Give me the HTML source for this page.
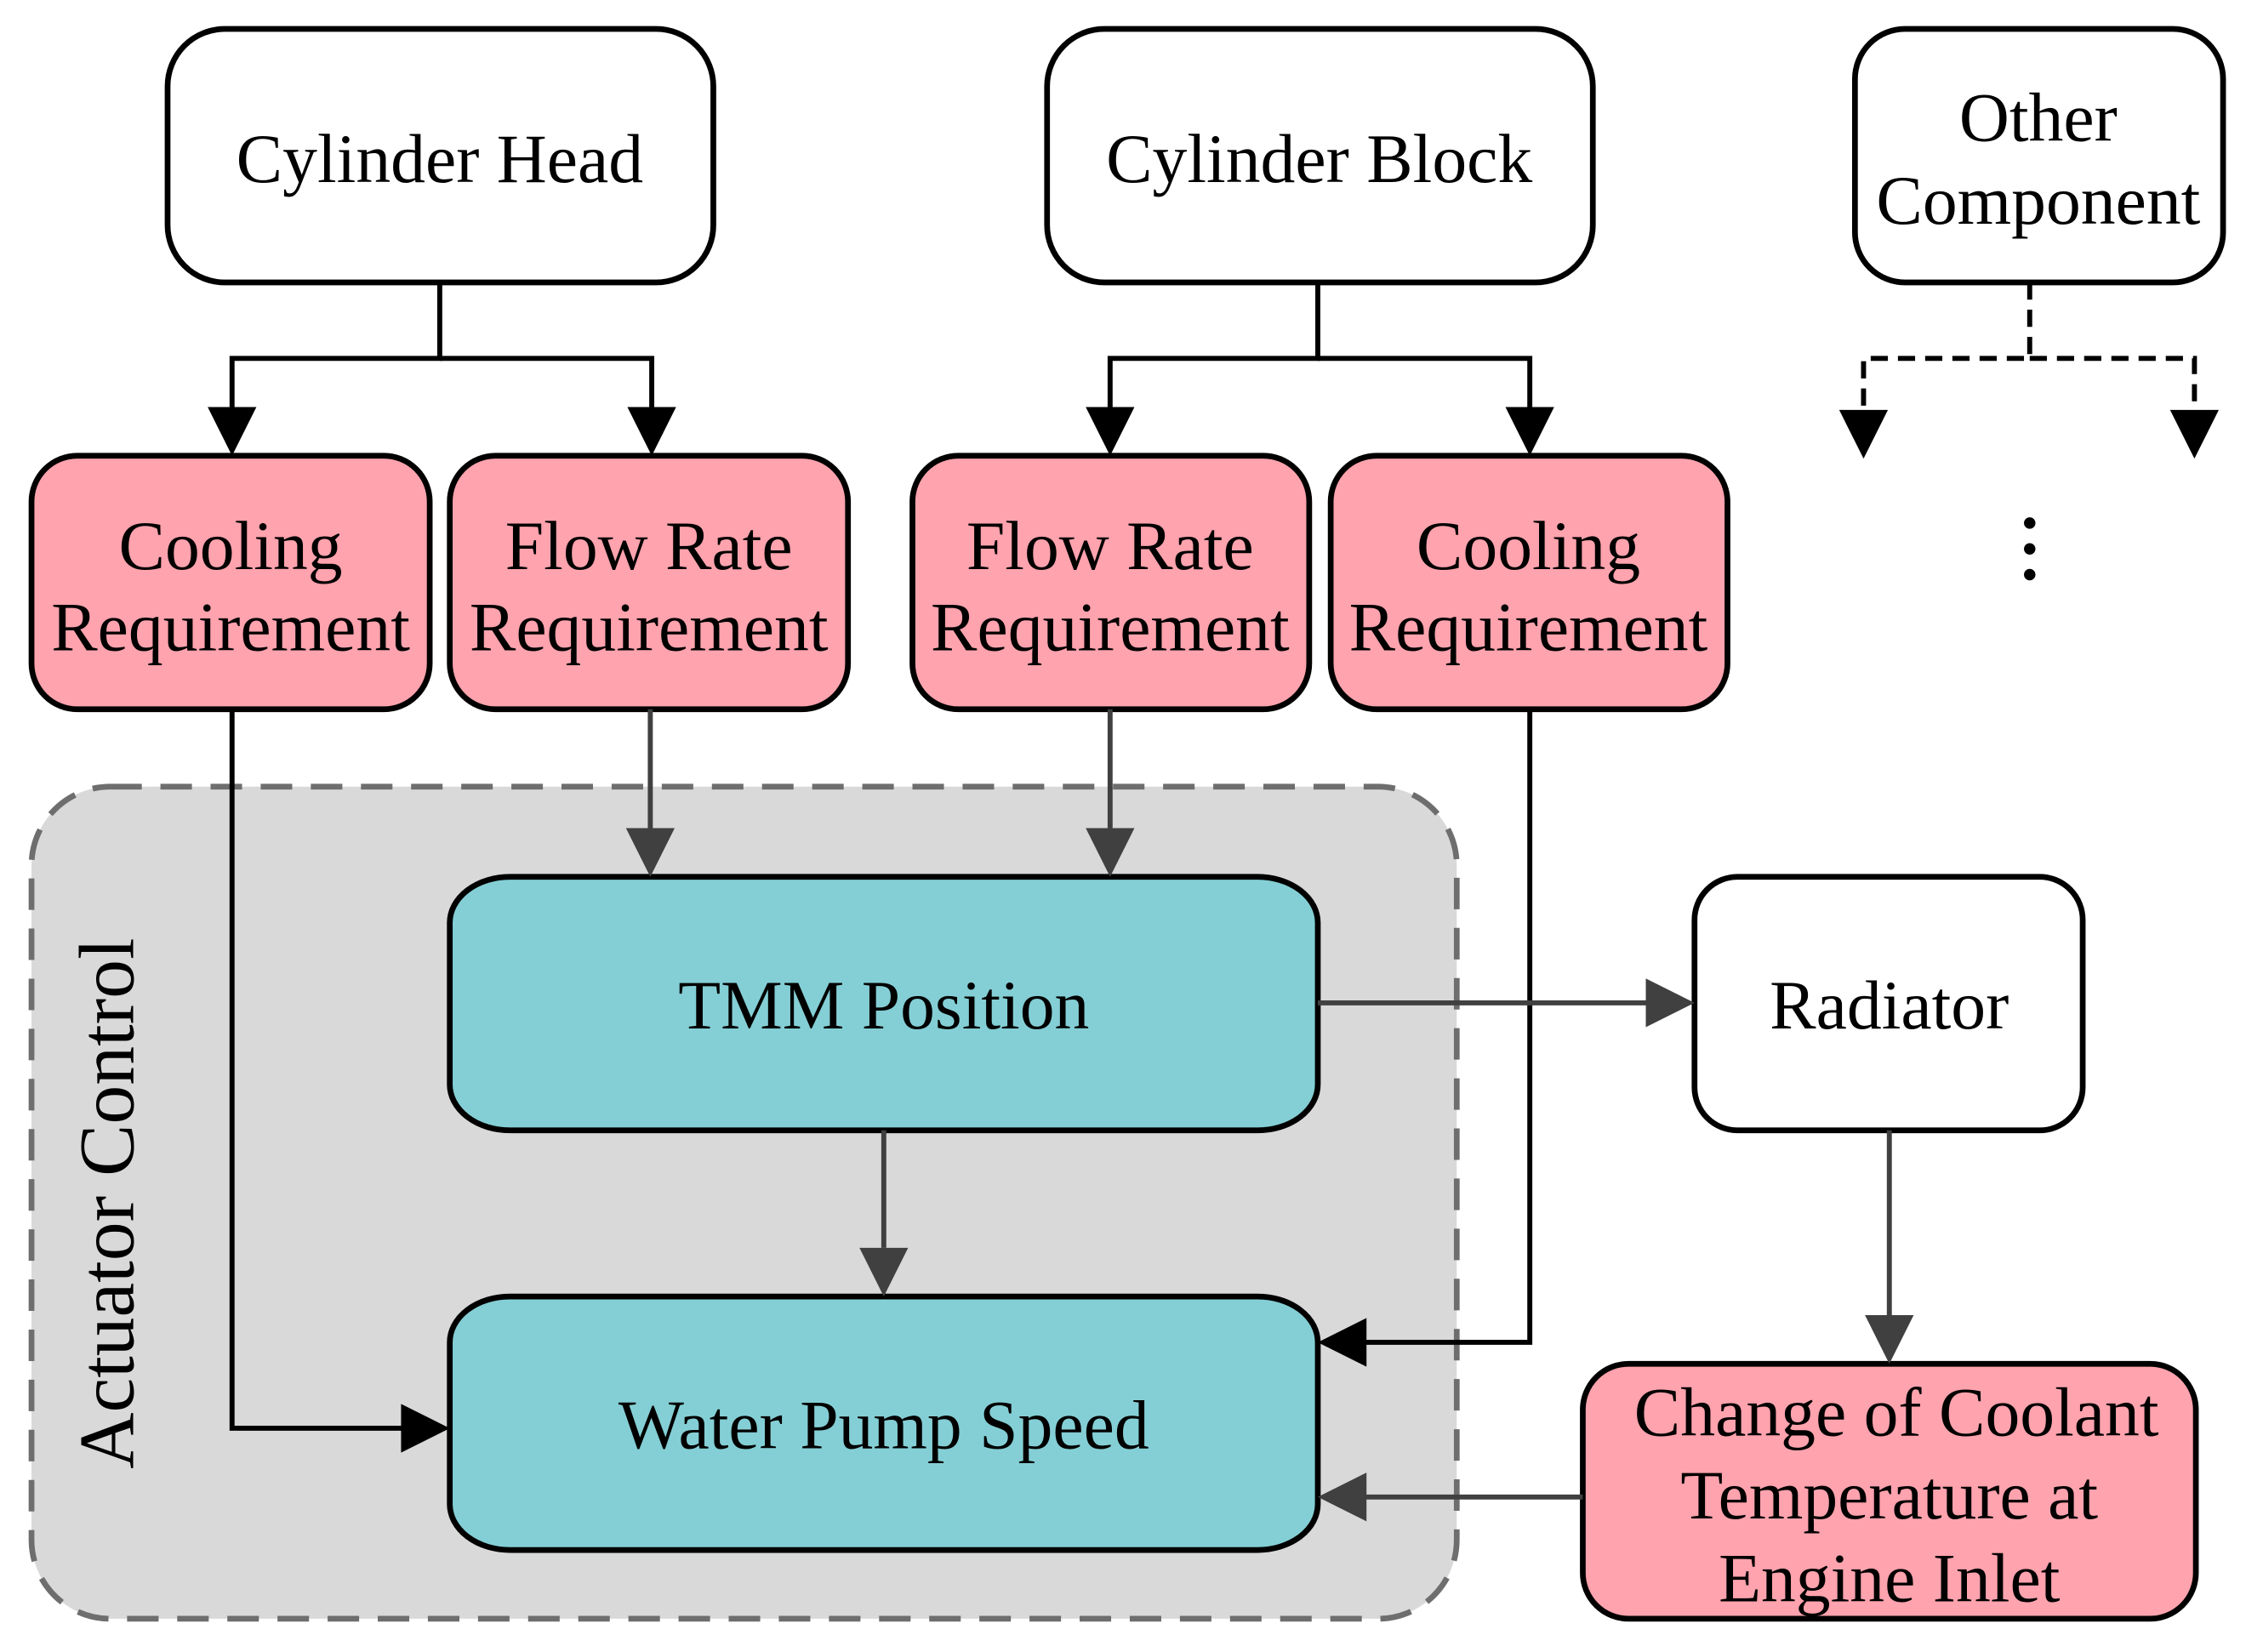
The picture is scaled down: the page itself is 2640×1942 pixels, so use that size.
<!DOCTYPE html>
<html><head><meta charset="utf-8"><style>
html,body{margin:0;padding:0;background:#fff;}
svg{display:block;}
text{font-family:"Liberation Serif",serif;font-size:48.5px;fill:#000;text-anchor:middle;}
</style></head><body>
<svg width="2640" height="1942" viewBox="0 0 1568 1153" xmlns="http://www.w3.org/2000/svg">
<rect width="1568" height="1153" fill="#fff"/>
<rect x="22" y="549" width="995" height="581" rx="55" fill="#D9D9D9" stroke="#6e6e6e" stroke-width="4" stroke-dasharray="22,13"/>
<text transform="translate(93,840) rotate(-90)" style="font-size:54.5px">Actuator Control</text>

<g stroke="#000" stroke-width="4" fill="#fff">
<rect x="117" y="20" width="381" height="177" rx="40"/>
<rect x="731" y="20" width="381" height="177" rx="40"/>
<rect x="1295" y="20" width="257" height="177" rx="35"/>
<rect x="1183" y="612" width="271" height="177" rx="30"/>
</g>
<text x="307" y="127">Cylinder Head</text>
<text x="921" y="127">Cylinder Block</text>
<text x="1423" y="98">Other</text>
<text x="1423" y="156">Component</text>
<text x="1319" y="718">Radiator</text>

<g stroke="#000" stroke-width="3.5" fill="none">
<path d="M307,197V250H162V284"/><path d="M307,250H455V284"/>
<path d="M920,197V250H775V284"/><path d="M920,250H1068V284"/>
<path d="M1417,197V250H1301V284" stroke-dasharray="12,7"/><path d="M1417,250H1532V284" stroke-dasharray="12,7"/>
</g>
<g fill="#000">
<path d="M145,284H179L162,318z"/><path d="M438,284H472L455,318z"/>
<path d="M758,284H792L775,318z"/><path d="M1051,284H1085L1068,318z"/>
<path d="M1284,286H1318L1301,320z"/><path d="M1515,286H1549L1532,320z"/>
<circle cx="1417" cy="365" r="4"/><circle cx="1417" cy="383" r="4"/><circle cx="1417" cy="401" r="4"/>
</g>

<g stroke="#000" stroke-width="4" fill="#FFA3AE">
<rect x="22" y="318" width="278" height="177" rx="32"/>
<rect x="314" y="318" width="278" height="177" rx="32"/>
<rect x="637" y="318" width="277" height="177" rx="32"/>
<rect x="929" y="318" width="277" height="177" rx="32"/>
<rect x="1105" y="952" width="428" height="178" rx="32"/>
</g>
<text x="161" y="397">Cooling</text><text x="161" y="454">Requirement</text>
<text x="453" y="397">Flow Rate</text><text x="453" y="454">Requirement</text>
<text x="775" y="397">Flow Rate</text><text x="775" y="454">Requirement</text>
<text x="1067" y="397">Cooling</text><text x="1067" y="454">Requirement</text>
<text x="1324" y="1002">Change of Coolant</text>
<text x="1319" y="1060">Temperature at</text>
<text x="1319" y="1118">Engine Inlet</text>

<g stroke="#000" stroke-width="4" fill="#84CFD5">
<rect x="314" y="612" width="606" height="177" rx="42" ry="32"/>
<rect x="314" y="905" width="606" height="177" rx="42" ry="32"/>
</g>
<text x="617" y="718">TMM Position</text>
<text x="617" y="1011">Water Pump Speed</text>

<g stroke="#000" stroke-width="3.5" fill="none">
<path d="M162,495V997H282"/>
<path d="M1068,495V937H952"/>
</g>
<g stroke="#404040" stroke-width="3.5" fill="none">
<path d="M454,495V578"/><path d="M775,495V578"/>
<path d="M617,789V871"/>
<path d="M920,700H1150"/>
<path d="M1319,789V918"/>
<path d="M1105,1045H952"/>
</g>
<g fill="#000">
<path d="M280,980V1014L314,997z"/>
<path d="M954,920V954L920,937z"/>
</g>
<g fill="#404040">
<path d="M437,578H471L454,612z"/><path d="M758,578H792L775,612z"/>
<path d="M600,871H634L617,905z"/>
<path d="M1149,683V717L1183,700z"/>
<path d="M1302,918H1336L1319,952z"/>
<path d="M954,1028V1062L920,1045z"/>
</g>
</svg>
</body></html>
